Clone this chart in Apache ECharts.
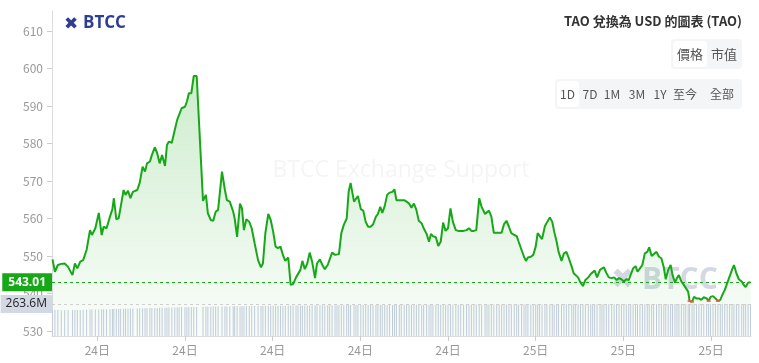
<!DOCTYPE html>
<html><head><meta charset="utf-8">
<script src="https://cdn.jsdelivr.net/npm/echarts@6/dist/echarts.min.js"></script>
<style>html,body{margin:0;padding:0;background:#fff;}#c{width:759px;height:363px;}</style>
</head><body><div id="c"></div>
<script>
// minutes after the first sample (first sample = 24日 07:28)
const startMinute = 448;
const minutes = [0,5,11,18,25,32,41,46,51,57,63,
70,77,81,88,95,101,105,111,118,123,126,131,136,140,146,150,155,160,165,174,
179,185,190,194,200,204,210,215,220,225,231,235,239,245,251,256,260,265,272,276,280,285,290,296,
309,315,319,325,330,335,340,348,354,358,364,371,374,379,385,389,393,398,404,409,415,422,428,432,437,443,448,453,458,463,468,473,478,484,489,494,500,504,509,
513,518,523,528,533,539,543,549,554,559,565,569,574,580,584,588,593,598,604,608,612,
619,623,627,633,638,643,648,653,658,664,668,673,677,682,687,692,698,702,706,712,716,722,727,732,737,742,747,752,758,762,768,773,777,781,787,792,797,802,807,812,817,822,828,833,838,844,850,855,860,865,870,876,881,888,892,896,901,906,912,917,922,927,932,
937,942,948,953,957,963,968,972,976,982,987,992,996,1000,1005,1011,1015,1021,1026,1030,1035,1039,1045,1050,1055,1060,1066,1070,1074,1079,1084,1089,1094,1100,1105,1109,1113,1118,1124,1128,1132,1137,1142,1148,1153,1158,1163,1168,1173,1178,1183,1187,1192,1197,1201,1206,
1211,1216,1221,1225,1230,1234,1240,1245,1250,1255,1259,1264,1269,1273,1278,1282,1286,1291,1296,1300,1305,1308,1313,1317,1322,1327,1332,1337,1343,1347,1351,1356,1361,1366,1371,1375,1380,1385,1390,1395,1399,1404,1409,1415,1419,1423,1428,1433];

const prices = [549.1,545.8,547.6,547.9,548.0,547.1,544.9,548.0,546.7,548.5,548.9,
551.6,556.9,555.6,557.4,561.5,555.6,557.8,557.4,560.5,562.5,565.4,559.8,560.1,563.1,567.6,566.3,567.4,565.4,567.1,567.6,
569.5,573.8,572.5,574.7,575.2,576.9,579.0,577.4,574.7,576.9,574.0,579.6,580.5,580.2,583.6,586.3,585.8,589.4,589.8,591.2,593.4,593.4,598.0,598.0,
564.7,566.3,561.4,559.6,559.4,561.8,562.3,572.5,567.6,564.9,564.5,561.8,560.0,555.1,564.0,562.7,556.9,559.8,559.1,557.4,553.4,548.9,547.0,548.0,556.1,561.2,559.6,556.5,552.5,552.1,552.5,550.3,548.7,549.6,542.3,542.5,544.3,544.7,546.3,
548.7,546.5,548.0,550.9,548.5,544.1,548.0,549.1,547.6,546.5,547.6,548.0,550.9,550.3,550.7,550.5,556.1,558.3,560.0,567.1,569.5,
564.5,564.3,566.0,562.5,562.1,559.1,557.8,557.8,558.4,560.5,561.2,563.1,561.5,563.3,566.3,566.9,567.1,567.8,564.9,564.9,564.7,564.9,564.5,564.0,562.9,564.0,562.3,559.4,558.7,557.4,555.9,553.8,555.9,555.3,555.0,552.7,553.8,558.9,556.7,557.4,562.7,559.1,556.9,556.7,556.7,556.7,556.9,557.4,556.7,556.7,556.9,565.4,563.1,561.2,561.4,562.1,560.5,556.2,556.2,556.2,556.2,558.5,559.4,
557.8,556.1,555.6,555.3,553.8,551.6,549.8,548.7,549.6,549.8,550.3,552.5,556.1,555.6,554.5,558.0,558.5,560.3,559.1,556.5,553.8,551.1,548.7,550.7,551.1,549.4,547.1,545.4,545.8,544.3,542.9,542.0,543.6,544.3,545.2,544.7,546.1,544.3,546.3,546.1,547.0,545.5,544.3,544.1,544.3,543.6,544.1,543.8,543.2,543.8,543.6,543.2,546.7,547.3,545.8,546.7,
547.6,550.7,551.1,552.3,550.0,550.3,551.1,549.8,549.4,547.0,543.8,546.3,547.6,544.9,542.9,544.1,544.9,543.2,542.3,541.8,540.5,538.0,537.8,539.1,538.7,538.7,538.3,539.0,538.7,538.0,539.1,539.3,538.7,538.0,538.3,539.6,540.9,542.7,544.5,546.3,547.6,545.4,543.8,543.2,542.3,541.7,542.9,543.01];

// 24h volume, millions USD
const volumes = [213,214,214,213,214,215,214,214,215,215,216,
217,218,218,219,219,220,220,221,221,222,222,223,223,224,224,225,225,226,226,227,
228,228,229,229,230,230,231,231,232,232,233,233,234,234,235,235,236,236,237,237,238,238,239,239,
240,240,241,241,242,242,243,243,244,244,244,245,245,245,246,246,246,247,247,247,248,248,248,248,249,249,249,249,250,250,250,250,250,251,251,251,251,251,252,
252,252,252,252,253,253,253,253,253,253,254,254,254,254,254,254,254,255,255,255,255,
255,255,255,255,255,255,256,256,256,256,256,256,256,256,256,256,256,256,257,257,257,257,257,257,257,257,257,257,257,257,257,257,258,258,258,258,258,258,258,258,258,258,258,258,258,258,258,258,259,259,259,259,259,259,259,259,259,259,259,259,259,259,259,
259,259,259,259,259,260,260,260,260,260,260,260,260,260,260,260,260,260,260,260,261,261,261,261,261,261,261,261,261,261,261,261,261,261,261,261,261,261,261,261,262,262,262,262,262,262,262,262,262,262,262,262,262,262,262,262,
262,262,262,262,262,262,262,262,262,262,263,263,263,263,263,263,263,263,263,263,263,263,263,263,263,263,263,263,263,263,263,263,263,263,263,263,263,263,263,263,263.6,263.6,263.6,263.6,263.6,263.6,263.6,263.6];

const priceTicks = [530,540,550,560,570,580,590,600,610];
const timeTicks = [540,720,900,1080,1260,1440,1620,1800]; // minutes since 24日 00:00
const lastPrice = 543.01;
const lastVolume = 263.6;
const lowMark = 538.05;
const title = 'TAO 兌換為 USD 的圖表 (TAO)';
const tabs1 = ['價格','市值'];
const tabs2 = ['1D','7D','1M','3M','1Y','至今','全部'];

const priceData = minutes.map((m,i)=>[startMinute+m, prices[i]]);
const volData = minutes.map((m,i)=>[startMinute+m, volumes[i]]);
const lowData = priceData.filter(p=>p[1] <= lowMark);

const FONT = '"Noto Sans CJK TC","Noto Sans",sans-serif';
const GREEN = '#17a817';
const chart = echarts.init(document.getElementById('c'), null, {renderer:'canvas'});

const graphics = [
  {type:'text', left:64, top:16, z:10, style:{text:'✖', font:'bold 17px "DejaVu Sans"', fill:'#2e3f93'}},
  {type:'text', left:83, top:15, z:10, style:{text:'BTCC', font:'bold 17px "Open Sans",sans-serif', fill:'#2e3f93'}},
  {type:'text', x:401, y:170, z:0, style:{text:'BTCC Exchange Support', font:'23px "Open Sans",sans-serif', fill:'rgba(0,0,0,0.045)', textAlign:'center', textVerticalAlign:'middle'}},
  {type:'text', left:611, top:267, z:0, style:{text:'✖', font:'bold 28px "DejaVu Sans"', fill:'rgba(140,152,185,0.38)'}},
  {type:'text', left:642, top:265, z:0, style:{text:'BTCC', font:'bold 30px "Open Sans",sans-serif', fill:'rgba(140,152,185,0.38)'}},
  {type:'text', right:17, top:15, z:10, style:{text:title, font:'600 13px '+FONT, fill:'#333'}},
  {type:'rect', shape:{x:671,y:39,width:71,height:30,r:4}, style:{fill:'#f4f5f7'}, z:5},
  {type:'rect', shape:{x:673,y:41,width:34,height:26,r:3}, style:{fill:'#fff'}, z:6},
  {type:'text', x:690, y:54, z:10, style:{text:tabs1[0], font:'13px '+FONT, fill:'#555', textAlign:'center', textVerticalAlign:'middle'}},
  {type:'text', x:724, y:54, z:10, style:{text:tabs1[1], font:'13px '+FONT, fill:'#555', textAlign:'center', textVerticalAlign:'middle'}},
  {type:'rect', shape:{x:555,y:79,width:187,height:30,r:4}, style:{fill:'#f4f5f7'}, z:5},
  {type:'rect', shape:{x:557,y:81,width:22,height:26,r:3}, style:{fill:'#fff'}, z:6}
];
const tabX = [567.5,590,612,637,660,685,722];
tabs2.forEach((t,i)=>graphics.push({type:'text', x:tabX[i], y:94, z:10, style:{text:t, font:'12px '+FONT, fill:'#555', textAlign:'center', textVerticalAlign:'middle'}}));

chart.setOption({
  animation:false,
  backgroundColor:'#fff',
  grid:{left:52, right:8, top:11, bottom:27, containLabel:false},
  xAxis:{type:'value', min:447, max:1882,
    axisLine:{show:true, lineStyle:{color:'#dcdcdc'}},
    axisTick:{show:true, length:5, lineStyle:{color:'#ccc'}, customValues:timeTicks},
    axisLabel:{color:'#999', fontSize:12, fontFamily:FONT, margin:8, customValues:timeTicks,
      formatter:v=> v<1440 ? '24日' : '25日'},
    splitLine:{show:false}},
  yAxis:[{type:'value', min:528.667, max:615.333, position:'left',
    axisLine:{show:true, lineStyle:{color:'#dcdcdc'}},
    axisTick:{show:true, length:5, lineStyle:{color:'#ccc'}, customValues:priceTicks},
    axisLabel:{color:'#999', fontSize:12, fontFamily:FONT, margin:9, customValues:priceTicks},
    splitLine:{show:false}},
   {type:'value', min:0, max:2677, show:false, splitLine:{show:false}}],
  graphic:graphics,
  series:[
    {type:'line', name:'price', data:priceData, showSymbol:false, z:3,
      lineStyle:{width:2, color:GREEN},
      areaStyle:{origin:'start', color:new echarts.graphic.LinearGradient(0,0,0,1,[
        {offset:0,color:'rgba(23,168,23,0.30)'},{offset:1,color:'rgba(23,168,23,0.03)'}])},
      markLine:{symbol:'none', silent:true, animation:false,
        lineStyle:{type:[3,3], color:GREEN, width:1},
        label:{position:'start', distance:0, formatter:()=>lastPrice.toFixed(2), backgroundColor:GREEN, color:'#fff',
          fontWeight:'bold', fontSize:12, fontFamily:'"Open Sans",sans-serif', padding:[2,6,2,6], lineHeight:14},
        data:[{yAxis:lastPrice}]}},
    {type:'scatter', name:'low', data:lowData, symbol:'rect', symbolSize:[4,2], z:4,
      itemStyle:{color:'#ff5050'}},
    {type:'bar', name:'volume', yAxisIndex:1, data:volData, barWidth:1, z:2,
      itemStyle:{color:'#c6cce0'},
      markLine:{symbol:'none', silent:true, animation:false,
        lineStyle:{type:[3,3], color:'#cfcfcf', width:1},
        label:{position:'start', distance:0, formatter:()=>lastVolume+'M', backgroundColor:'#d3d8e5', color:'#222',
          fontSize:12, fontFamily:'"Open Sans",sans-serif', padding:[2,5,2,5], lineHeight:14},
        data:[{yAxis:lastVolume}]}}
  ]
});
</script></body></html>
